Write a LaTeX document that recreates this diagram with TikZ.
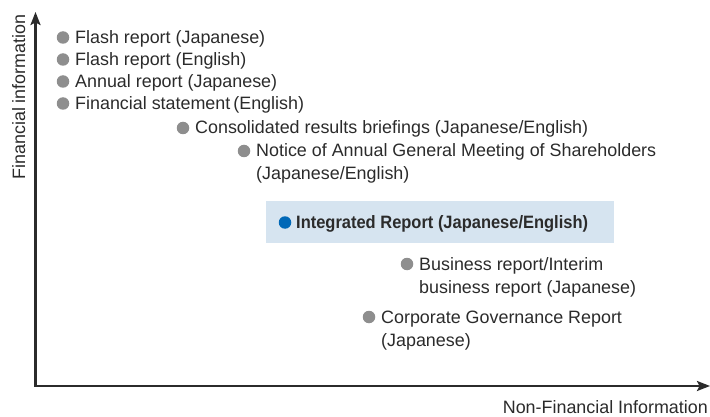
\documentclass[tikz,border=0pt]{standalone}
\usepackage{fontspec}
\usepackage{graphicx}
\setmainfont{Liberation Sans}
\usetikzlibrary{arrows.meta,calc}
\definecolor{inkdark}{HTML}{2B2B2B}
\definecolor{dotgrey}{HTML}{8E8E8E}
\definecolor{dotblue}{HTML}{0068B7}
\definecolor{panelblue}{HTML}{D6E4F0}
\newcommand{\twolines}[2]{\begin{tabular}[t]{@{}l@{}}#1\\#2\end{tabular}}
\begin{document}
\begin{tikzpicture}[x=1pt,y=-1pt,
  every node/.style={font=\fontsize{17.9}{23}\selectfont, text=inkdark},
  item/.style={anchor=base west, inner sep=0pt},
  dot/.style={circle, fill=dotgrey, minimum size=12.5pt, inner sep=0pt},
  keydot/.style={circle, fill=dotblue, minimum size=12.5pt, inner sep=0pt},
  axisline/.style={draw=inkdark, line width=2.4pt, line join=miter,
    {Stealth[length=13pt,width=10pt,inset=2.5pt]}-{Stealth[length=13pt,width=10pt,inset=2.5pt]}},
  panel/.style={fill=panelblue, draw=none, minimum width=348pt, minimum height=42pt, inner sep=0pt},
  axislabel/.style={inner sep=0pt}
]
\useasboundingbox (0,0) rectangle (710,417);

% axes
\coordinate (origin) at (35.5,386);
\coordinate (ytip) at (35.5,12);
\coordinate (xtip) at (710,386);
\draw[axisline] (ytip) -- (origin) -- (xtip);
\node[axislabel, rotate=90, anchor=base] (ylab) at (25,97) {Financial information};
\node[axislabel, anchor=base east] (xlab) at (708,413.5) {Non-Financial Information};

% highlighted item
\node[panel] (hl) at (440,222) {};

% items
\node[item] (t1) at (75,43.5) {Flash report (Japanese)};
\node[item] (t2) at (75,65.5) {Flash report (English)};
\node[item] (t3) at (75,87.5) {Annual report (Japanese)};
\node[item] (t4) at (75,109.5) {Financial statement\,(English)};
\node[item] (t5) at (195,134) {Consolidated results briefings (Japanese/English)};
\node[item] (t6) at (256,157) {\twolines{Notice of Annual General Meeting of Shareholders}{(Japanese/English)}};
\node[item] (t7) at (296,228.5) {\scalebox{0.92}[1]{\bfseries Integrated Report (Japanese/English)}};
\node[item] (t8) at (419,270) {\twolines{Business report/Interim}{business report (Japanese)}};
\node[item] (t9) at (381,323) {\twolines{Corporate Governance Report}{(Japanese)}};

% bullets
\foreach \t in {t1,t2,t3,t4,t5,t6,t8,t9}
  \node[dot] (dot-\t) at ($(\t.base west)+(-12,-6)$) {};
\node[keydot] (dot-t7) at ($(t7.base west)+(-11,-6)$) {};
\end{tikzpicture}
\end{document}
